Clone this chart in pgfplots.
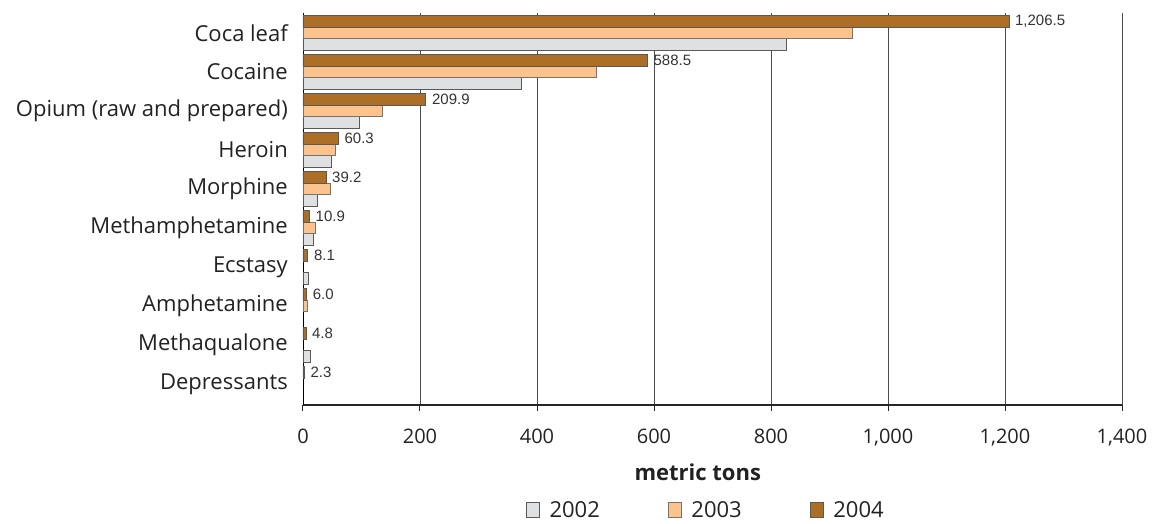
\documentclass[border=0pt]{standalone}
\usepackage{pgfplots}
\pgfplotsset{compat=1.18}
\usepackage{fontspec}
\setmainfont{Open Sans}
\newfontfamily\valuefont{Liberation Sans}

\definecolor{c2002}{HTML}{DFE0E2}
\definecolor{c2003}{HTML}{FDC38D}
\definecolor{c2004}{HTML}{AD6F25}
\definecolor{txt}{HTML}{222222}

\begin{document}
\begin{tikzpicture}
\useasboundingbox (0,0) rectangle (1152pt,523pt);
\begin{axis}[
  at={(303pt,118pt)}, anchor=south west,
  scale only axis, width=819pt, height=392pt,
  xbar, bar width=11.5pt,
  xmin=0, xmax=1400, ymin=-0.54, ymax=9.51,
  xtick={0,200,...,1400},
  ytick={0,...,9},
  yticklabels={Depressants,Methaqualone,Amphetamine,Ecstasy,Methamphetamine,Morphine,Heroin,{Opium (raw and prepared)},Cocaine,Coca leaf},
  axis x line*=bottom, axis y line*=left,
  axis line style={-},
  x axis line style={line width=1.4pt, black!85},
  y axis line style={line width=0.8pt, black},
  xmajorgrids,
  major grid style={black!70, line width=0.7pt},
  tick align=outside,
  major tick length=6pt,
  xtick style={black!85, line width=1pt},
  ytick style={draw=none},
  /pgf/number format/1000 sep={,},
  /pgf/number format/assume math mode=true,
  xticklabel style={font=\fontsize{20}{24}\selectfont, text=txt, inner sep=0pt, yshift=-18pt},
  yticklabel style={font=\fontsize{22}{26}\selectfont, text=txt, inner sep=0pt, anchor=east, xshift=-9pt},
  xlabel={\textbf{metric tons}},
  xlabel style={font=\fontsize{22}{26}\selectfont, text=txt, at={(rel axis cs:0.482,0)}, anchor=center, yshift=-67pt},
  legend style={draw=none, fill=none, at={(rel axis cs:0.272,0)}, anchor=west, yshift=-105pt,
    font=\fontsize{22}{26}\selectfont, text=txt, inner sep=0pt,
    /tikz/every odd column/.append style={column sep=8pt},
    /tikz/every even column/.append style={column sep=66pt},
    cells={anchor=west}},
  legend columns=3,
  legend image code/.code={\draw[#1] (0pt,-7.5pt) rectangle (13pt,7.5pt);},
]

% 2002
\addplot[fill=c2002, draw=black!65, line width=0.6pt, bar shift=-11.5pt] coordinates {
  (826,9) (374,8) (97,7) (49,6) (25,5) (18,4) (8.5,3) (12,1)
};
% 2003
\addplot[fill=c2003, draw=black!55, line width=0.6pt, bar shift=0pt] coordinates {
  (939,9) (501,8) (135,7) (56,6) (46,5) (21.7,4) (6.5,2)
};
% 2004
\addplot[fill=c2004, draw=black!65, line width=0.6pt, bar shift=11.5pt,
  point meta=x,
  nodes near coords={\pgfmathprintnumber[fixed,fixed zerofill,precision=1,1000 sep={,},assume math mode=true]{\pgfplotspointmeta}},
  every node near coord/.append style={font=\valuefont\fontsize{15}{17}\selectfont, text=black!80, anchor=west, inner sep=0pt, xshift=6pt}
] coordinates {
  (1206.5,9) (588.5,8) (209.9,7) (60.3,6) (39.2,5) (10.9,4) (8.1,3) (6.0,2) (4.8,1) (2.3,0)
};

\legend{2002,2003,2004}
\end{axis}
\end{tikzpicture}
\end{document}
